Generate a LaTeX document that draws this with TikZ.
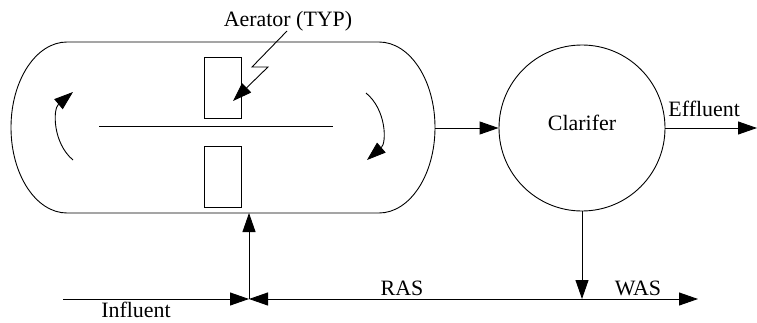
\documentclass[tikz,border=0pt]{standalone}
\usepackage{fontspec}
\setmainfont{Liberation Serif}
\usetikzlibrary{arrows.meta}

\begin{document}
\begin{tikzpicture}[x=1bp, y=1bp, line width=0.9bp, >={Triangle[length=19bp, width=13bp]},
    lbl/.style={font=\fontsize{22}{25}\selectfont, inner sep=0pt},
    aerbox/.style={draw, minimum width=37bp, minimum height=61bp, inner sep=0pt}]
    \useasboundingbox (0,0) rectangle (757,322);
    % aeration basin
    \draw (67,109) -- (379,109) arc[start angle=-90, end angle=90, x radius=56, y radius=85.5]
      -- (67,280) arc[start angle=90, end angle=270, x radius=56, y radius=85.5] -- cycle;
    \draw (99,196) -- (333,196);
    \node[aerbox] (aerup) at (222.5,234.5) {};
    \node[aerbox] (aerlo) at (222.5,145.5) {};
    \draw[->] (73,162) to[bend left=50] (73,230);
    \draw[->] (366,229) to[bend left=50] (367,162);
    \node[lbl, anchor=base] (aer) at (288,296) {Aerator (TYP)};
    \coordinate (boltA) at (287,291);
    \coordinate (boltB) at (233,221);
    \draw[->] (boltA) -- (252,255) -- (268,255) -- (boltB);
    % clarifier
    \node[draw, circle, minimum size=166bp, inner sep=0pt] (clar) at (582,194) {};
    \node[lbl, anchor=base] (clartxt) at (582,192) {Clarifer};
    \coordinate (tankE) at (435,194);
    \coordinate (effend) at (757,194);
    \draw[->] (tankE) -- (clar.west);
    \draw[->] (clar.east) -- (effend);
    \node[lbl, anchor=base west] (eff) at (668,206) {Effluent};
    % bottom lines
    \coordinate (inflow) at (63,23);
    \coordinate (jn) at (249,23);
    \coordinate (tankS) at (249,109);
    \coordinate (drop) at (582,23);
    \coordinate (wasend) at (698,23);
    \draw[->] (inflow) -- (jn);
    \draw[->] (drop) -- (jn);
    \draw[->] (jn) -- (tankS);
    \draw[->] (clar.south) -- (drop);
    \draw[->] (drop) -- (wasend);
    \node[lbl, anchor=base] (inf) at (136,5) {Influent};
    \node[lbl, anchor=base] (ras) at (402,27) {RAS};
    \node[lbl, anchor=base] (was) at (638,27) {WAS};
  \end{tikzpicture}
\end{document}
